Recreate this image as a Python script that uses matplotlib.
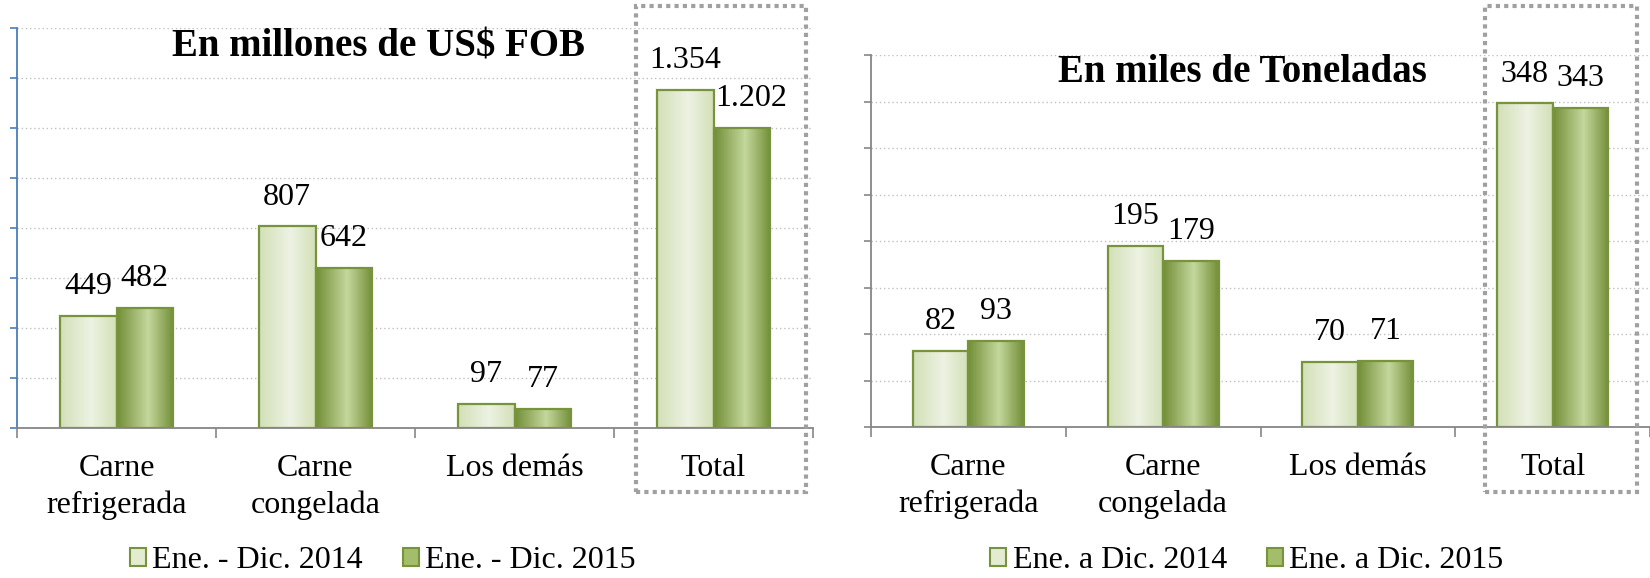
import matplotlib
matplotlib.use("Agg")
import matplotlib.pyplot as plt
import numpy as np
from matplotlib.colors import LinearSegmentedColormap
from matplotlib.patches import Rectangle, Patch

plt.rcParams["font.family"] = ["Liberation Serif", "DejaVu Serif"]

categories = ["Carne\nrefrigerada", "Carne\ncongelada", "Los demás", "Total"]

usd_2014 = [449, 807, 97, 1354]
usd_2015 = [482, 642, 77, 1202]
usd_labels_2014 = ["449", "807", "97", "1.354"]
usd_labels_2015 = ["482", "642", "77", "1.202"]

ton_2014 = [82, 195, 70, 348]
ton_2015 = [93, 179, 71, 343]
ton_labels_2014 = ["82", "195", "70", "348"]
ton_labels_2015 = ["93", "179", "71", "343"]

light_cmap = LinearSegmentedColormap.from_list(
    "light", [(0, "#d3e0b8"), (0.55, "#edf2e3"), (1, "#d3e0b8")])
dark_cmap = LinearSegmentedColormap.from_list(
    "dark", [(0, "#738f38"), (0.55, "#c4d79d"), (1, "#738f38")])
edge_col = "#77933c"
grad = np.linspace(0, 1, 64).reshape(1, -1)

W, H = 1650, 578
fig = plt.figure(figsize=(W / 100, H / 100), dpi=100)


def px_axes(x0, y0, x1, y1):
    return fig.add_axes([x0 / W, 1 - y1 / H, (x1 - x0) / W, (y1 - y0) / H])


def draw_panel(ax, v14, v15, lab14, lab15, ymax, step, spine_col):
    x = np.arange(len(categories))
    w = 0.285
    for xs, vals, cmap in [(x - w / 2, v14, light_cmap), (x + w / 2, v15, dark_cmap)]:
        bars = ax.bar(xs, vals, width=w, facecolor="none", edgecolor=edge_col,
                      linewidth=1.6, zorder=3)
        for b in bars:
            ax.imshow(grad, extent=(b.get_x(), b.get_x() + b.get_width(), 0, b.get_height()),
                      aspect="auto", cmap=cmap, zorder=2, interpolation="bilinear")
    for xs, vals, labs in [(x - w / 2, v14, lab14), (x + w / 2, v15, lab15)]:
        for xi, v, t in zip(xs, vals, labs):
            dx = 7 if t == "1.202" else 0
            ax.annotate(t, (xi, v), xytext=(dx, 21), textcoords="offset points",
                        ha="center", va="center", fontsize=23)
    ax.set_xlim(-0.5, len(categories) - 0.5)
    ax.set_ylim(0, ymax)
    ax.set_aspect("auto")
    ax.set_yticks(np.arange(0, ymax + 1, step))
    ax.set_yticklabels([])
    ax.tick_params(axis="y", length=5, width=1.2, color=spine_col, direction="out")
    ax.set_xticks(np.arange(-0.5, len(categories)), minor=False)
    ax.set_xticklabels([])
    ax.set_xticks(x, minor=True)
    ax.set_xticklabels(categories, minor=True, fontsize=23, linespacing=1.3)
    ax.tick_params(axis="x", which="major", length=7, width=1.2, color="#868686")
    ax.tick_params(axis="x", which="minor", length=0, pad=19)
    ax.grid(axis="y", linestyle=(0, (1, 2)), color="#c0c0c0", linewidth=1)
    ax.set_axisbelow(True)
    for s in ["top", "right"]:
        ax.spines[s].set_visible(False)
    ax.spines["left"].set_color(spine_col)
    ax.spines["left"].set_linewidth(1.3)
    ax.spines["bottom"].set_color("#868686")
    ax.spines["bottom"].set_linewidth(1.3)
    ax.spines["bottom"].set_zorder(4)


ax1 = px_axes(17, 28, 813, 428)
draw_panel(ax1, usd_2014, usd_2015, usd_labels_2014, usd_labels_2015, 1600, 200, "#4a7ebb")
ax2 = px_axes(871, 55, 1650, 427)
draw_panel(ax2, ton_2014, ton_2015, ton_labels_2014, ton_labels_2015, 400, 50, "#868686")

fig.text(379 / W, 1 - 47 / H, "En millones de US$ FOB", ha="center", va="center",
         fontsize=28, fontweight="bold")
fig.text(1242 / W, 1 - 72 / H, "En miles de Toneladas", ha="center", va="center",
         fontsize=28, fontweight="bold")

for x0, x1 in [(636, 806), (1485, 1637)]:
    fig.patches.append(Rectangle((x0 / W, 1 - 492 / H), (x1 - x0) / W, (492 - 6) / H,
                                 transform=fig.transFigure, fill=False,
                                 edgecolor="#a0a0a0", linewidth=3.0,
                                 linestyle=(0, (1, 1))))

for labels, cx in [(["Ene. - Dic. 2014", "Ene. - Dic. 2015"], 383),
                   (["Ene. a Dic. 2014", "Ene. a Dic. 2015"], 1247)]:
    handles = [Patch(facecolor="#e3ebd2", edgecolor=edge_col, linewidth=1.5),
               Patch(facecolor="#a3bd6a", edgecolor=edge_col, linewidth=1.5)]
    fig.legend(handles, labels, loc="center", bbox_to_anchor=(cx / W, 1 - 561 / H),
               ncol=2, frameon=False, fontsize=23, handlelength=0.5, handleheight=0.5,
               handletextpad=0.2, columnspacing=1.25)

fig.savefig("out.png", dpi=100)
